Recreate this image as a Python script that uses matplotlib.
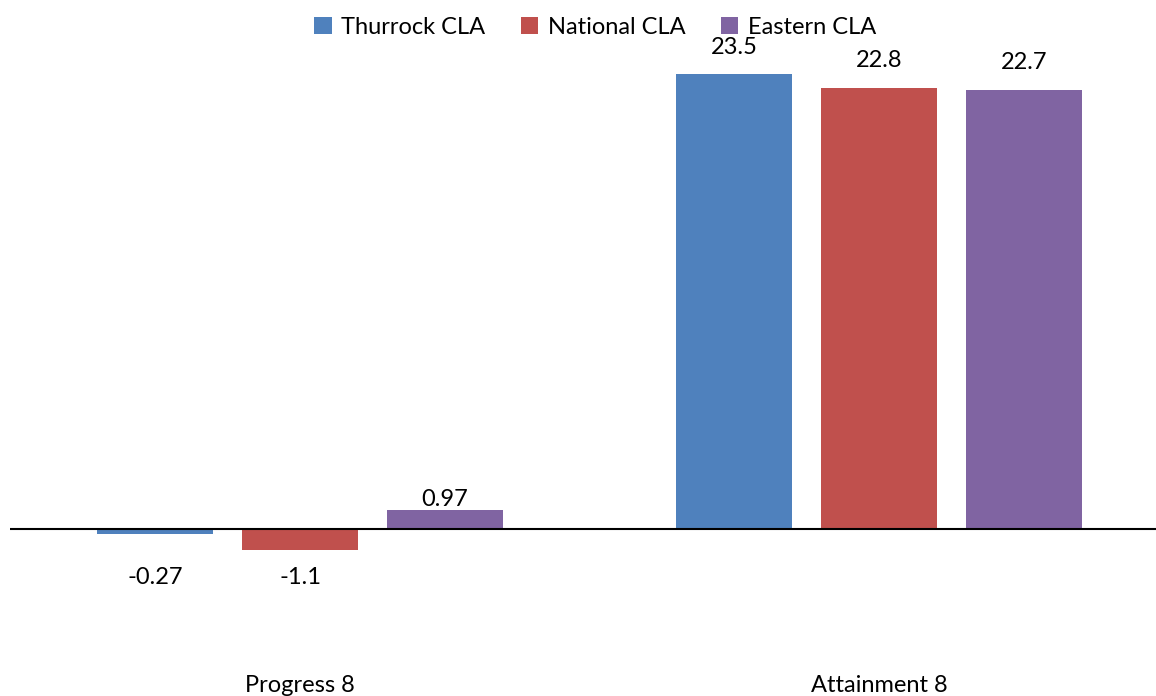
import matplotlib
matplotlib.use("Agg")
import matplotlib.pyplot as plt
import numpy as np

categories = ["Progress 8", "Attainment 8"]
series_names = ["Thurrock CLA", "National CLA", "Eastern CLA"]
thurrock = [-0.27, 23.5]
national = [-1.1, 22.8]
eastern = [0.97, 22.7]
labels = [["-0.27", "23.5"], ["-1.1", "22.8"], ["0.97", "22.7"]]
colors = ["#4F81BD", "#C0504D", "#8064A2"]

plt.rcParams['font.family'] = ['Lato', 'DejaVu Sans']
FS = 17

fig = plt.figure(figsize=(11.56, 6.96), dpi=100)
ax = fig.add_axes([10/1156, 28/696, 1 - 10/1156, (668-45)/696])

x = np.arange(len(categories))
width = 0.2003
offset = 0.2504
series = [thurrock, national, eastern]
for i, (vals, name, col) in enumerate(zip(series, series_names, colors)):
    xs = x + (i - 1) * offset
    ax.bar(xs, vals, width=width, color=col, label=name, zorder=2)
    for xi, v, lab in zip(xs, vals, labels[i]):
        if v < 0:
            ax.annotate(lab, (xi, 0), xytext=(0, -49), textcoords='offset pixels',
                        ha='center', va='center', fontsize=FS)
        else:
            off = 10 if v < 2 else 27
            ax.annotate(lab, (xi, v), xytext=(0, off), textcoords='offset pixels',
                        ha='center', va='center', fontsize=FS)

ax.set_xlim(-0.5009, 1.478)
ax.set_ylim(-7.2, 25)
ax.axhline(0, color='black', linewidth=1.5, zorder=3)
for s in ax.spines.values():
    s.set_visible(False)
ax.set_yticks([])
ax.set_xticks(x)
ax.set_xticklabels(categories, fontsize=FS)
ax.tick_params(axis='x', length=0, pad=5)

fig.legend(loc='center', bbox_to_anchor=(595/1156, 1 - 27/696), ncol=3, frameon=False,
           fontsize=FS, handlelength=0.75, handleheight=0.75, handletextpad=0.4,
           columnspacing=1.5)

fig.savefig("out.png", dpi=100)
